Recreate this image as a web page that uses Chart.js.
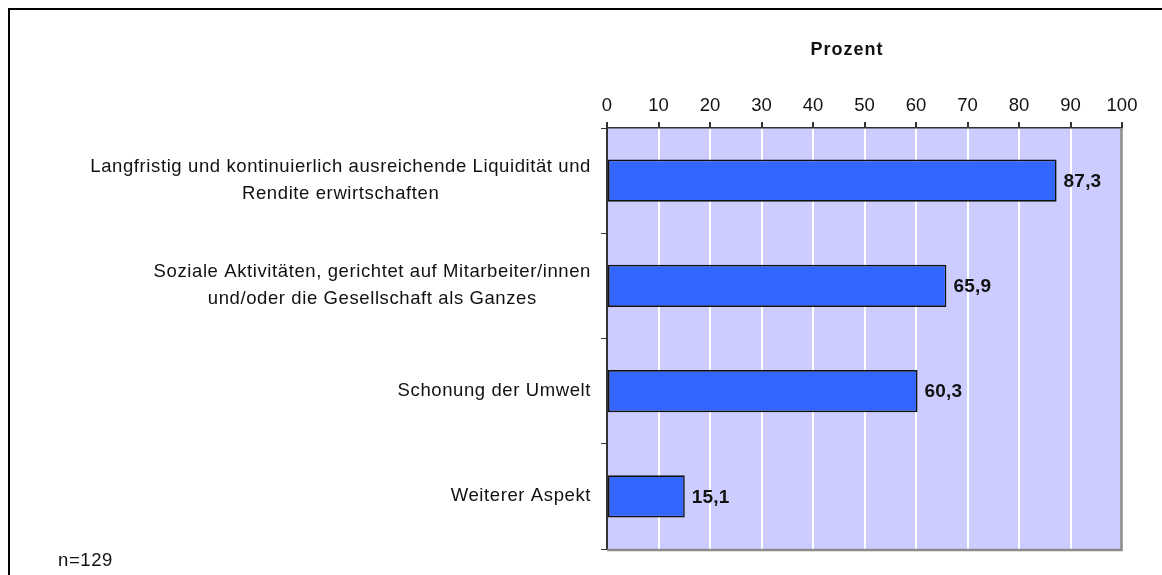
<!DOCTYPE html>
<html><head><meta charset="utf-8">
<script src="https://cdn.jsdelivr.net/npm/chart.js"></script>
<style>html,body{margin:0;padding:0;background:#fff;} canvas{display:block;}</style>
</head><body>
<canvas id="c" width="1162" height="575"></canvas>
<script>
const categories = [
  ["Langfristig und kontinuierlich ausreichende Liquidität und", "Rendite erwirtschaften"],
  ["Soziale Aktivitäten, gerichtet auf Mitarbeiter/innen", "und/oder die Gesellschaft als Ganzes"],
  ["Schonung der Umwelt"],
  ["Weiterer Aspekt"]
];
const values = [87.3, 65.9, 60.3, 15.1];
const xTickLabels = ["0","10","20","30","40","50","60","70","80","90","100"];
const axisTitle = "Prozent";
const sampleNote = "n=129";

const FONT = '"Liberation Sans", Arial, sans-serif';

const decor = {
  id: 'decor',
  beforeDraw(chart) {
    const {ctx, chartArea: a} = chart;
    ctx.save();
    ctx.fillStyle = '#CCCCFF';
    ctx.fillRect(a.left, a.top, a.right - a.left, a.bottom - a.top);
    ctx.restore();
  },
  afterDatasetsDraw(chart) {
    const {ctx} = chart;
    const meta = chart.getDatasetMeta(0);
    ctx.save();
    ctx.font = 'bold 19px ' + FONT;
    ctx.letterSpacing = '0.2px';
    ctx.fillStyle = '#111';
    ctx.textAlign = 'left';
    ctx.textBaseline = 'middle';
    meta.data.forEach((bar, i) => {
      ctx.fillText(values[i].toFixed(1).replace('.', ','), bar.x + 7, bar.y + 1);
    });
    ctx.restore();
  },
  afterDraw(chart) {
    const {ctx, chartArea: a} = chart;
    const yScale = chart.scales.y;
    ctx.save();
    // plot right / bottom border
    ctx.strokeStyle = '#8c8c8c';
    ctx.lineWidth = 2.5;
    ctx.beginPath();
    ctx.moveTo(a.right - 0.5, a.top);
    ctx.lineTo(a.right - 0.5, a.bottom + 1);
    ctx.lineTo(a.left, a.bottom + 1);
    ctx.stroke();
    // category labels
    ctx.font = '18.5px ' + FONT;
    ctx.letterSpacing = '0.6px';
    ctx.fillStyle = '#111';
    ctx.textAlign = 'center';
    ctx.textBaseline = 'middle';
    const lh = 27;
    categories.forEach((lines, i) => {
      const cy = yScale.getPixelForValue(i);
      const w = Math.max(...lines.map(l => ctx.measureText(l).width));
      const cx = 591 - w / 2;
      lines.forEach((l, j) => {
        ctx.fillText(l, cx, cy + (j - (lines.length - 1) / 2) * lh);
      });
    });
    // title
    ctx.font = 'bold 18px ' + FONT;
    ctx.letterSpacing = '1px';
    ctx.fillText(axisTitle, 847, 50);
    // note
    ctx.font = '18.5px ' + FONT;
    ctx.letterSpacing = '0.6px';
    ctx.textAlign = 'left';
    ctx.fillText(sampleNote, 58, 561);
    // frame
    ctx.letterSpacing = '0px';
    ctx.strokeStyle = '#000';
    ctx.lineWidth = 2;
    ctx.beginPath();
    ctx.moveTo(9, 575);
    ctx.lineTo(9, 9);
    ctx.lineTo(1162, 9);
    ctx.stroke();
    ctx.restore();
  }
};

new Chart(document.getElementById('c'), {
  type: 'bar',
  data: {
    labels: categories.map(c => c.join(' ')),
    datasets: [{
      data: values,
      backgroundColor: '#3366FF',
      borderColor: '#111',
      borderWidth: 1.6,
      borderSkipped: false,
      barPercentage: 0.4,
      categoryPercentage: 1.0
    }]
  },
  options: {
    indexAxis: 'y',
    responsive: false,
    animation: false,
    devicePixelRatio: 1,
    layout: { padding: { left: 0, top: 0, right: 40, bottom: 26 } },
    plugins: { legend: { display: false }, tooltip: { enabled: false } },
    scales: {
      x: {
        position: 'top',
        min: 0, max: 100,
        ticks: {
          stepSize: 10, autoSkip: false, maxRotation: 0,
          color: '#111', padding: 5,
          font: { family: FONT, size: 18.5 },
          callback: (v, i) => xTickLabels[i]
        },
        grid: { color: '#FFFFFF', lineWidth: 2, tickColor: '#333', tickLength: 6, drawOnChartArea: true },
        border: { color: '#333', width: 1.5 },
        afterFit(s) { s.height = 128; }
      },
      y: {
        ticks: { display: false },
        grid: { drawOnChartArea: false, drawTicks: true, tickLength: 6, tickColor: '#333', offset: true },
        border: { color: '#333', width: 2 },
        afterFit(s) { s.width = 607; }
      }
    }
  },
  plugins: [decor]
});
</script>
</body></html>
